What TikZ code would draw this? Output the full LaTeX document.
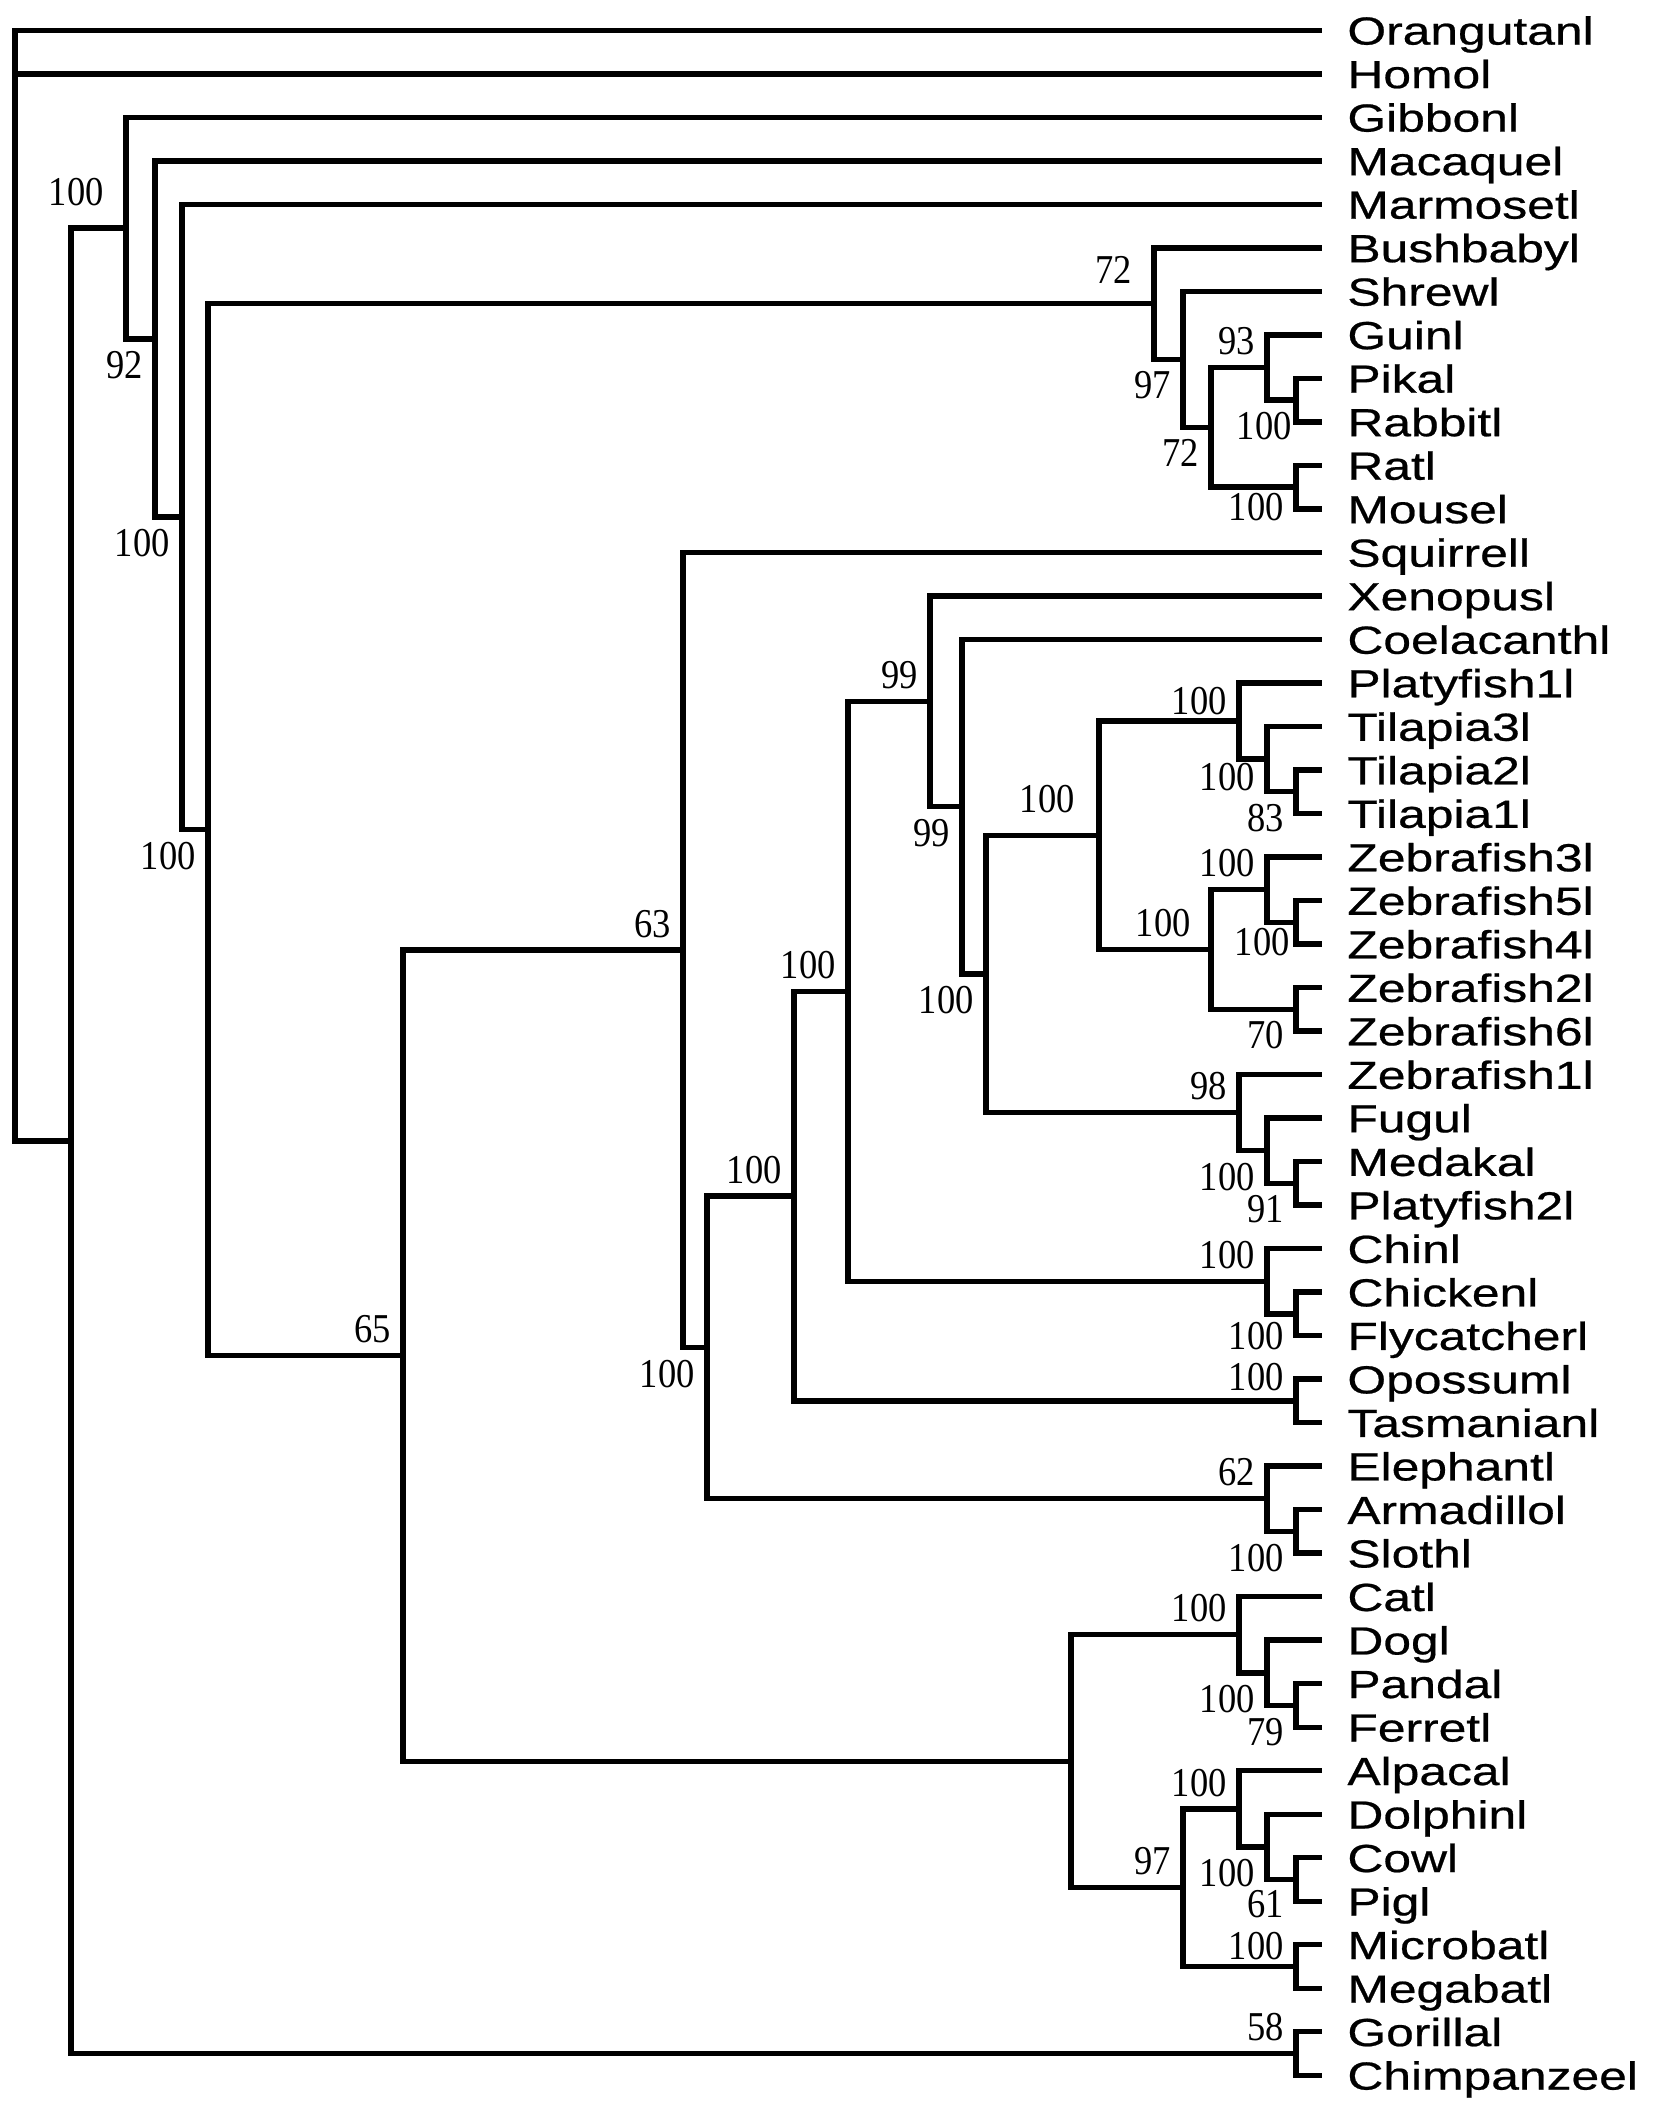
\documentclass[tikz,border=0pt]{standalone}
\usepackage{fontspec}
\setmainfont{Liberation Serif}[FakeStretch=0.89]
\newfontfamily\taxonfont{Liberation Sans}[FakeStretch=1.27, FakeBold=0.6]
\usepackage{tikz}
\newcommand{\leafx}{1322}

\begin{document}
\begin{tikzpicture}[x=0.5pt, y=-21.755pt]
  \tikzset{branch/.style={line width=2.7pt}}
  \tikzset{taxon/.style={anchor=west, inner xsep=12.5pt, inner ysep=0pt,
      font=\taxonfont\fontsize{19.6}{20}\selectfont, text height=14.3pt, text depth=0pt}}
  \tikzset{bsa/.style={anchor=south east, inner sep=0pt, xshift=-6pt, yshift=6pt,
      font=\fontsize{20.5}{21}\selectfont}}
  \tikzset{bsb/.style={anchor=north east, inner sep=0pt, xshift=-6pt, yshift=-6pt,
      font=\fontsize{20.5}{21}\selectfont}}
  \useasboundingbox (0,-0.6964) rectangle (1654,47.729);

  % leaves, one per row
  \foreach \name/\txt [count=\i from 0] in {
      orangutan/Orangutanl, homo/Homol, gibbon/Gibbonl, macaque/Macaquel,
      marmoset/Marmosetl, bushbaby/Bushbabyl, shrew/Shrewl, gui/Guinl,
      pika/Pikal, rabbit/Rabbitl, rat/Ratl, mouse/Mousel, squirrel/Squirrell,
      xenopus/Xenopusl, coelacanth/Coelacanthl, platyfish1/Platyfish1l,
      tilapia3/Tilapia3l, tilapia2/Tilapia2l, tilapia1/Tilapia1l,
      zebrafish3/Zebrafish3l, zebrafish5/Zebrafish5l, zebrafish4/Zebrafish4l,
      zebrafish2/Zebrafish2l, zebrafish6/Zebrafish6l, zebrafish1/Zebrafish1l,
      fugu/Fugul, medaka/Medakal, platyfish2/Platyfish2l, chin/Chinl,
      chicken/Chickenl, flycatcher/Flycatcherl, opossum/Opossuml,
      tasmanian/Tasmanianl, elephant/Elephantl, armadillo/Armadillol,
      sloth/Slothl, cat/Catl, dog/Dogl, panda/Pandal, ferret/Ferretl,
      alpaca/Alpacal, dolphin/Dolphinl, cow/Cowl, pig/Pigl,
      microbat/Microbatl, megabat/Megabatl, gorilla/Gorillal,
      chimpanzee/Chimpanzeel}
    \node[taxon] (\name) at (\leafx,\i) {\txt};

  % inner nodes
  \coordinate (root) at (15, 12.7616);
  \coordinate (nA) at (71, 25.5231);
  \coordinate (nB) at (126, 4.5462);
  \coordinate (nC) at (155, 7.0925);
  \coordinate (nD) at (182, 11.1849);
  \coordinate (nE) at (208, 18.3699);
  \coordinate (fBush) at (1154, 6.2813);
  \coordinate (fShrew) at (1183, 7.5625);
  \coordinate (fGlires) at (1211, 9.125);
  \coordinate (fGui) at (1267, 7.75);
  \coordinate (fPikRab) at (1296, 8.5);
  \coordinate (fRatMou) at (1296, 10.5);
  \coordinate (nG) at (403, 30.4585);
  \coordinate (nH) at (683, 21.1357);
  \coordinate (nI) at (707, 30.2715);
  \coordinate (nJ) at (794, 26.793);
  \coordinate (nK) at (848, 22.0859);
  \coordinate (nK1) at (930, 15.4219);
  \coordinate (nK2) at (962, 17.8438);
  \coordinate (nK3) at (986, 21.6875);
  \coordinate (nK4) at (1099, 18.5);
  \coordinate (nK6) at (1239, 15.875);
  \coordinate (nK8) at (1267, 16.75);
  \coordinate (nK9) at (1296, 17.5);
  \coordinate (nK7) at (1211, 21.125);
  \coordinate (nK10) at (1267, 19.75);
  \coordinate (nK12) at (1296, 20.5);
  \coordinate (nK11) at (1296, 22.5);
  \coordinate (nK5) at (1239, 24.875);
  \coordinate (nK13) at (1267, 25.75);
  \coordinate (nK14) at (1296, 26.5);
  \coordinate (nK15) at (1267, 28.75);
  \coordinate (nK16) at (1296, 29.5);
  \coordinate (opos) at (1296, 31.5);
  \coordinate (eleph) at (1267, 33.75);
  \coordinate (armsl) at (1296, 34.5);
  \coordinate (nL) at (1071, 39.7813);
  \coordinate (carn) at (1239, 36.875);
  \coordinate (canDog) at (1267, 37.75);
  \coordinate (panfer) at (1296, 38.5);
  \coordinate (nM) at (1183, 42.6875);
  \coordinate (nM1) at (1239, 40.875);
  \coordinate (nM2) at (1267, 41.75);
  \coordinate (cowpig) at (1296, 42.5);
  \coordinate (bats) at (1296, 44.5);
  \coordinate (gorchi) at (1296, 46.5);

  % branches
  \draw[branch] (root) |- (orangutan.west) (root) |- (homo.west) (root) |- (nA);
  \draw[branch] (nA) |- (nB) (nA) |- (gorchi);
  \draw[branch] (nB) |- (gibbon.west) (nB) |- (nC);
  \draw[branch] (nC) |- (macaque.west) (nC) |- (nD);
  \draw[branch] (nD) |- (marmoset.west) (nD) |- (nE);
  \draw[branch] (nE) |- (fBush) (nE) |- (nG);
  \draw[branch] (fBush) |- (bushbaby.west) (fBush) |- (fShrew);
  \draw[branch] (fShrew) |- (shrew.west) (fShrew) |- (fGlires);
  \draw[branch] (fGlires) |- (fGui) (fGlires) |- (fRatMou);
  \draw[branch] (fGui) |- (gui.west) (fGui) |- (fPikRab);
  \draw[branch] (fPikRab) |- (pika.west) (fPikRab) |- (rabbit.west);
  \draw[branch] (fRatMou) |- (rat.west) (fRatMou) |- (mouse.west);
  \draw[branch] (nG) |- (nH) (nG) |- (nL);
  \draw[branch] (nH) |- (squirrel.west) (nH) |- (nI);
  \draw[branch] (nI) |- (nJ) (nI) |- (eleph);
  \draw[branch] (nJ) |- (nK) (nJ) |- (opos);
  \draw[branch] (nK) |- (nK1) (nK) |- (nK15);
  \draw[branch] (nK1) |- (xenopus.west) (nK1) |- (nK2);
  \draw[branch] (nK2) |- (coelacanth.west) (nK2) |- (nK3);
  \draw[branch] (nK3) |- (nK4) (nK3) |- (nK5);
  \draw[branch] (nK4) |- (nK6) (nK4) |- (nK7);
  \draw[branch] (nK6) |- (platyfish1.west) (nK6) |- (nK8);
  \draw[branch] (nK8) |- (tilapia3.west) (nK8) |- (nK9);
  \draw[branch] (nK9) |- (tilapia2.west) (nK9) |- (tilapia1.west);
  \draw[branch] (nK7) |- (nK10) (nK7) |- (nK11);
  \draw[branch] (nK10) |- (zebrafish3.west) (nK10) |- (nK12);
  \draw[branch] (nK12) |- (zebrafish5.west) (nK12) |- (zebrafish4.west);
  \draw[branch] (nK11) |- (zebrafish2.west) (nK11) |- (zebrafish6.west);
  \draw[branch] (nK5) |- (zebrafish1.west) (nK5) |- (nK13);
  \draw[branch] (nK13) |- (fugu.west) (nK13) |- (nK14);
  \draw[branch] (nK14) |- (medaka.west) (nK14) |- (platyfish2.west);
  \draw[branch] (nK15) |- (chin.west) (nK15) |- (nK16);
  \draw[branch] (nK16) |- (chicken.west) (nK16) |- (flycatcher.west);
  \draw[branch] (opos) |- (opossum.west) (opos) |- (tasmanian.west);
  \draw[branch] (eleph) |- (elephant.west) (eleph) |- (armsl);
  \draw[branch] (armsl) |- (armadillo.west) (armsl) |- (sloth.west);
  \draw[branch] (nL) |- (carn) (nL) |- (nM);
  \draw[branch] (carn) |- (cat.west) (carn) |- (canDog);
  \draw[branch] (canDog) |- (dog.west) (canDog) |- (panfer);
  \draw[branch] (panfer) |- (panda.west) (panfer) |- (ferret.west);
  \draw[branch] (nM) |- (nM1) (nM) |- (bats);
  \draw[branch] (nM1) |- (alpaca.west) (nM1) |- (nM2);
  \draw[branch] (nM2) |- (dolphin.west) (nM2) |- (cowpig);
  \draw[branch] (cowpig) |- (cow.west) (cowpig) |- (pig.west);
  \draw[branch] (bats) |- (microbat.west) (bats) |- (megabat.west);
  \draw[branch] (gorchi) |- (gorilla.west) (gorchi) |- (chimpanzee.west);

  % bootstrap values
  \node[bsa, xshift=-5pt, yshift=5pt] (lB) at (nB) {100};
  \node[bsb] (lC) at (nC) {92};
  \node[bsb] (lD) at (nD) {100};
  \node[bsb] (lE) at (nE) {100};
  \node[bsa, xshift=-5pt, yshift=4pt] (lBush) at (fBush) {72};
  \node[bsb] (lShrew) at (fShrew) {97};
  \node[bsb] (lGlires) at (fGlires) {72};
  \node[bsa] (lGui) at (fGui) {93};
  \node[bsb, xshift=4pt] (lPikRab) at (fPikRab) {100};
  \node[bsb, yshift=3pt] (lRatMou) at (fRatMou) {100};
  \node[bsa] (lG) at (nG) {65};
  \node[bsa] (lH) at (nH) {63};
  \node[bsb] (lI) at (nI) {100};
  \node[bsa] (lJ) at (nJ) {100};
  \node[bsa] (lK) at (nK) {100};
  \node[bsa] (lK1) at (nK1) {99};
  \node[bsb] (lK2) at (nK2) {99};
  \node[bsb] (lK3) at (nK3) {100};
  \node[bsa, xshift=-6pt, yshift=5pt] (lK4) at (nK4) {100};
  \node[bsa, yshift=-3pt] (lK6) at (nK6) {100};
  \node[bsb, yshift=4pt] (lK8) at (nK8) {100};
  \node[bsb] (lK9) at (nK9) {83};
  \node[bsa, xshift=-4pt] (lK7) at (nK7) {100};
  \node[bsa] (lK10) at (nK10) {100};
  \node[bsb, xshift=3pt, yshift=3pt] (lK12) at (nK12) {100};
  \node[bsb] (lK11) at (nK11) {70};
  \node[bsa] (lK5) at (nK5) {98};
  \node[bsb] (lK13) at (nK13) {100};
  \node[bsb] (lK14) at (nK14) {91};
  \node[bsa] (lK15) at (nK15) {100};
  \node[bsb, yshift=2pt] (lK16) at (nK16) {100};
  \node[bsa, yshift=-1pt] (lOpos) at (opos) {100};
  \node[bsa] (lEleph) at (eleph) {62};
  \node[bsb] (lArmsl) at (armsl) {100};
  \node[bsa] (lCarn) at (carn) {100};
  \node[bsb] (lCanDog) at (canDog) {100};
  \node[bsb] (lPanfer) at (panfer) {79};
  \node[bsa] (lM1) at (nM1) {100};
  \node[bsa] (lM) at (nM) {97};
  \node[bsb] (lM2) at (nM2) {100};
  \node[bsb, yshift=1pt] (lCowpig) at (cowpig) {61};
  \node[bsa, yshift=-3pt] (lBats) at (bats) {100};
  \node[bsa] (lGorchi) at (gorchi) {58};
\end{tikzpicture}
\end{document}
